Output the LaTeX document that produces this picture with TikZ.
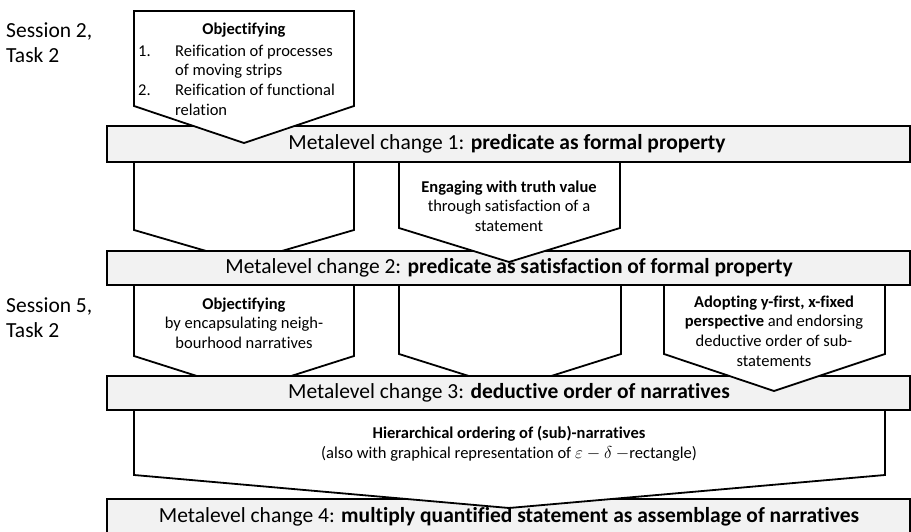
\documentclass[tikz,border=0pt]{standalone}
\usepackage{fontspec}
\setmainfont{Carlito}[Ligatures=CommonOff]
\definecolor{barfill}{HTML}{F2F2F2}
\tikzset{
  arrowbox/.style={draw=black, line width=1.8pt, fill=white, line join=miter},
  barbox/.style={draw=black, line width=1.8pt, fill=barfill},
  bartext/.style={inner sep=0pt, font=\fontsize{21.5}{25}\selectfont},
  boxtext/.style={inner sep=0pt, align=center, font=\fontsize{16.5}{19.7}\selectfont},
  sidetext/.style={inner sep=0pt, align=left, anchor=west, font=\fontsize{21.5}{25}\selectfont}
}
\begin{document}
\begin{tikzpicture}[x=1pt,y=-1pt]
\useasboundingbox (0,0) rectangle (911,532);
\clip (0,0) rectangle (911,532);
% boxes behind bars
\draw[arrowbox] (134,162) -- (354,162) -- (354,230) -- (244,262) -- (134,230) -- cycle;
\draw[arrowbox] (134,285) -- (354,285) -- (354,356) -- (244,391) -- (134,356) -- cycle;
\draw[arrowbox] (399,285) -- (621,285) -- (621,354) -- (510,389) -- (399,354) -- cycle;
% bars
\draw[barbox] (107,126) rectangle (910,162);
\draw[barbox] (107,251) rectangle (910,285);
\draw[barbox] (107,376) rectangle (910,410);
\draw[barbox] (107,499) rectangle (910,535);
% boxes in front of bars
\draw[arrowbox] (134,11) -- (354,11) -- (354,106) -- (244,143) -- (134,106) -- cycle;
\draw[arrowbox] (399,162) -- (620,162) -- (620,228) -- (509,262) -- (399,228) -- cycle;
\draw[arrowbox] (664,285) -- (885,285) -- (885,354) -- (774,391) -- (664,354) -- cycle;
\draw[arrowbox] (134,410) -- (885,410) -- (885,475) -- (509,508) -- (134,475) -- cycle;
% side labels
\node[sidetext] (s2) at (6,43) {Session 2,\\Task 2};
\node[sidetext] (s5) at (6,318) {Session 5,\\Task 2};
% bar texts
\node[bartext] (m1) at (507,144) {Metalevel change 1: \textbf{predicate as formal property}};
\node[bartext] (m2) at (509,268) {Metalevel change 2: \textbf{predicate as satisfaction of formal property}};
\node[bartext] (m3) at (509,393) {Metalevel change 3: \textbf{deductive order of narratives}};
\node[bartext] (m4) at (509,517) {Metalevel change 4: \textbf{multiply quantified statement as assemblage of narratives}};
% box texts
\node[boxtext] (a1) at (244,30) {\textbf{Objectifying}};
\node[boxtext, align=left, anchor=west] (a2) at (138,80) {\makebox[37pt][l]{1.}Reification of processes\\\hspace*{37pt}of moving strips\\\makebox[37pt][l]{2.}Reification of functional\\\hspace*{37pt}relation};
\node[boxtext] (c1) at (509,206) {\textbf{Engaging with truth value}\\through satisfaction of a\\statement};
\node[boxtext] (d1) at (244,323) {\textbf{Objectifying}\\by encapsulating neigh-\\bourhood narratives};
\node[boxtext] (f1) at (774,331) {\textbf{Adopting y-first, x-fixed}\\\textbf{perspective} and endorsing\\deductive order of sub-\\statements};
\node[boxtext] (g1) at (509,443.5) {\textbf{Hierarchical ordering of (sub)-narratives}\\(also with graphical representation of $\varepsilon-\delta$ $-$rectangle)};
\end{tikzpicture}
\end{document}
